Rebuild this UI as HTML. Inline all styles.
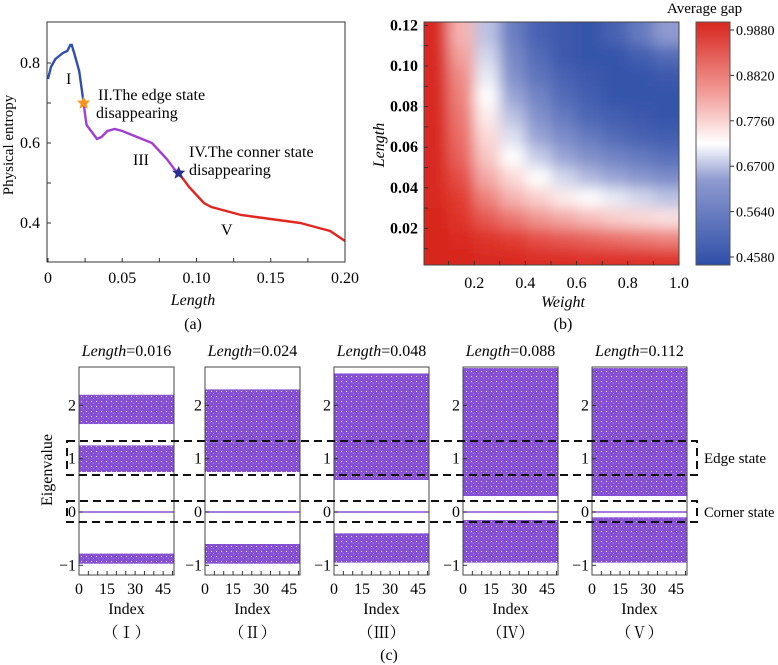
<!DOCTYPE html>
<html><head><meta charset="utf-8"><style>
body{margin:0;background:#fff}
svg{display:block;font-family:"Liberation Serif",serif}
</style></head><body>
<svg id="fig" width="778" height="665" viewBox="0 0 778 665">
<defs>
<pattern id="speck" width="5" height="5" patternUnits="userSpaceOnUse">
<rect width="5" height="5" fill="#8650d4"/><rect x="1" y="1" width="1" height="1" fill="#e8dcf8"/><rect x="3" y="3" width="1" height="1" fill="#a47ae0"/>
</pattern>
<linearGradient id="cbar" x1="0" y1="1" x2="0" y2="0">
<stop offset="0" stop-color="#2f4fa8"/><stop offset="0.35" stop-color="#8e9ad0"/><stop offset="0.5" stop-color="#ffffff"/><stop offset="0.7" stop-color="#f2a09c"/><stop offset="1" stop-color="#d7261e"/>
</linearGradient>
<filter id="blur" x="0" y="0" width="1" height="1"><feGaussianBlur stdDeviation="7"/></filter>
<clipPath id="hmclip"><rect x="424" y="22" width="255" height="243"/></clipPath>
</defs>
<g id="pa"></g>
<g id="pb"></g>
<g id="pc"></g>
</svg>
<script>
// ---- Panel (a) data ----
const entropyX = [0,0.002,0.005,0.01,0.013,0.015,0.016,0.018,0.021,0.024];
const entropyY = [0.76,0.79,0.81,0.825,0.83,0.845,0.845,0.82,0.78,0.70];
const entropyX2 = [0.024,0.025,0.026,0.028,0.03,0.033,0.036,0.04,0.045,0.05,0.06,0.07,0.075,0.08,0.085,0.088];
const entropyY2 = [0.70,0.67,0.645,0.635,0.625,0.61,0.615,0.63,0.635,0.63,0.615,0.60,0.58,0.56,0.535,0.525];
const entropyX3 = [0.088,0.09,0.095,0.1,0.105,0.11,0.115,0.12,0.13,0.14,0.15,0.16,0.17,0.18,0.19,0.2];
const entropyY3 = [0.525,0.515,0.49,0.47,0.45,0.44,0.435,0.43,0.42,0.415,0.41,0.405,0.40,0.39,0.38,0.355];
const aXTicks = [0,0.05,0.10,0.15,0.20];
const aXTickLabels = ["0","0.05","0.10","0.15","0.20"];
const aYTicks = [0.4,0.6,0.8];
const aYTickLabels = ["0.4","0.6","0.8"];
// ---- Panel (b) data ----
const weightCenters = [0.05,0.15,0.25,0.35,0.45,0.55,0.65,0.75,0.85,0.95];
const lengthCenters = [0.115,0.105,0.095,0.085,0.075,0.065,0.055,0.045,0.035,0.025,0.015,0.005];
const gapRows = [
[.98,.80,.66,.56,.50,.48,.47,.50,.55,.62],
[.98,.82,.68,.58,.52,.48,.47,.47,.49,.52],
[.98,.84,.70,.60,.54,.50,.48,.47,.47,.48],
[.98,.85,.72,.63,.57,.52,.49,.47,.47,.47],
[.98,.86,.74,.66,.60,.55,.51,.49,.48,.47],
[.98,.87,.76,.69,.63,.59,.55,.52,.50,.49],
[.98,.88,.78,.72,.67,.63,.60,.57,.55,.53],
[.98,.90,.81,.76,.72,.68,.65,.63,.61,.59],
[.98,.92,.85,.80,.77,.74,.72,.70,.68,.66],
[.99,.94,.89,.86,.83,.81,.79,.77,.76,.75],
[.99,.97,.94,.92,.90,.89,.88,.87,.86,.85],
[.99,.99,.98,.97,.96,.96,.95,.95,.95,.94]];
const bXTicks = [0.2,0.4,0.6,0.8,1.0];
const bXTickLabels = ["0.2","0.4","0.6","0.8","1.0"];
const bYTicks = [0.02,0.04,0.06,0.08,0.10,0.12];
const bYTickLabels = ["0.02","0.04","0.06","0.08","0.10","0.12"];
const cbarTicks = [0.988,0.882,0.776,0.670,0.564,0.458];
const cbarTickLabels = ["0.9880","0.8820","0.7760","0.6700","0.5640","0.4580"];
// ---- Panel (c) data ----
const panelTitles = ["0.016","0.024","0.048","0.088","0.112"];
const panelNumerals = ["（Ⅰ）","（Ⅱ）","（Ⅲ）","（Ⅳ）","（Ⅴ）"];
const bandLow = [[1.65,0.75,-0.97],[1.3,0.75,-0.97],[0.6,-0.95],[0.3,-0.95],[0.3,-0.95]];
const bandHigh = [[2.2,1.25,-0.78],[2.3,1.3,-0.6],[2.6,-0.4],[2.7,-0.15],[2.7,-0.1]];
const cXTicks = [0,15,30,45];
const cYTicks = [-1,0,1,2];
const cYTickLabels = ["−1","0","1","2"];

const NS="http://www.w3.org/2000/svg";
const FS=16;
function mk(parent,tag,attrs,text){const e=document.createElementNS(NS,tag);for(const k in attrs)e.setAttribute(k,attrs[k]);if(text!==undefined)e.textContent=text;parent.appendChild(e);return e;}

// ===== Panel a =====
const pa=document.getElementById('pa');
const ax=v=>48+v/0.2*297, ay=v=>63+(0.8-v)*400;
function drawLine(xs,ys,col,name){
  const p=mk(pa,'polyline',{points:xs.map((x,i)=>ax(x)+','+ay(ys[i])).join(' '),fill:'none',stroke:col,'stroke-width':2.4});
  
  
}
drawLine(entropyX,entropyY,'#2f4fb0','entropy-segment-1');
drawLine(entropyX2,entropyY2,'#a13fd0','entropy-segment-2');
drawLine(entropyX3,entropyY3,'#e0261e','entropy-segment-3');
let fr=mk(pa,'rect',{x:47,y:22,width:298,height:240,fill:'none',stroke:'#333','stroke-width':1});

for(let v=0;v<=0.2001;v+=0.025){mk(pa,'line',{x1:ax(v),x2:ax(v),y1:262,y2:258,stroke:'#333'});}
aXTicks.forEach((v,i)=>{const t=mk(pa,'text',{x:ax(v),y:283,'text-anchor':'middle','font-size':FS},aXTickLabels[i]);});
[0.4,0.5,0.6,0.7,0.8].forEach(v=>mk(pa,'line',{x1:47,x2:51,y1:ay(v),y2:ay(v),stroke:'#333'}));
aYTicks.forEach((v,i)=>{const t=mk(pa,'text',{x:40,y:ay(v)+5,'text-anchor':'end','font-size':FS},aYTickLabels[i]);});
let t;
t=mk(pa,'text',{x:0,y:0,transform:'translate(13,145) rotate(-90)','text-anchor':'middle','font-size':15},'Physical entropy');
t=mk(pa,'text',{x:193,y:305,'text-anchor':'middle','font-size':FS,'font-style':'italic'},'Length');
t=mk(pa,'text',{x:193,y:329,'text-anchor':'middle','font-size':FS},'(a)');
const ann=[[66,84,'I'],[98,100,'II.The edge state'],[96,118,'disappearing'],[133,165,'III'],[189,157,'IV.The conner state'],[189,175,'disappearing'],[221,235,'V']];
ann.forEach(a=>{const e=mk(pa,'text',{x:a[0],y:a[1],'font-size':FS},a[2]);});
function star(cx,cy,r,col,name){let pts=[];for(let i=0;i<10;i++){const rr=i%2?r*0.45:r;const a=-Math.PI/2+i*Math.PI/5;pts.push((cx+rr*Math.cos(a)).toFixed(1)+','+(cy+rr*Math.sin(a)).toFixed(1));}
const s=mk(pa,'polygon',{points:pts.join(' '),fill:col});}
star(ax(0.024),ay(0.70),7,'#f7931e','edge-disappearing-star');
star(ax(0.088),ay(0.525),7,'#2a2f8f','corner-disappearing-star');

// ===== Panel b =====
const pb=document.getElementById('pb');
const bx=v=>423+v*256, by=v=>269-v/0.02*40.6;
function gapColor(v){
  const stops=[[0.458,[47,79,168]],[0.62,[142,154,208]],[0.72,[255,255,255]],[0.82,[242,160,156]],[0.92,[225,60,50]],[0.99,[215,38,30]]];
  if(v<=stops[0][0])return 'rgb('+stops[0][1]+')';
  for(let i=1;i<stops.length;i++){if(v<=stops[i][0]){const f=(v-stops[i-1][0])/(stops[i][0]-stops[i-1][0]);const c=stops[i-1][1].map((a,k)=>Math.round(a+(stops[i][1][k]-a)*f));return 'rgb('+c+')';}}
  return 'rgb('+stops[stops.length-1][1]+')';
}
const hmOuter=mk(pb,'g',{'clip-path':'url(#hmclip)'});
const hm=mk(hmOuter,'g',{filter:'url(#blur)'});
mk(hm,'rect',{x:400,y:0,width:300,height:290,fill:gapColor(0.9)});
gapRows.forEach((row,ri)=>row.forEach((v,ci)=>{
  const w0=weightCenters[ci]-0.05,l0=lengthCenters[ri]+0.005;
  let x=bx(w0),y=by(l0),w=bx(weightCenters[ci]+0.05)-x,h=by(lengthCenters[ri]-0.005)-y;
  if(ci===0){x-=20;w+=20;} if(ci===row.length-1)w+=20; if(ri===0){y-=20;h+=20;} if(ri===gapRows.length-1)h+=20;
  const c=mk(hm,'rect',{x:x,y:y,width:w+0.5,height:h+0.5,fill:gapColor(v)});
  
  
}));
fr=mk(pb,'rect',{x:424,y:22,width:255,height:243,fill:'none',stroke:'#444'});
for(let v=0.1;v<=1.0;v+=0.1)mk(pb,'line',{x1:bx(v),x2:bx(v),y1:265,y2:261,stroke:'#333'});
bXTicks.forEach((v,i)=>{const e=mk(pb,'text',{x:bx(v),y:288,'text-anchor':'middle','font-size':FS},bXTickLabels[i]);});
for(let v=0.01;v<=0.12;v+=0.01)mk(pb,'line',{x1:424,x2:428,y1:by(v),y2:by(v),stroke:'#333'});
bYTicks.forEach((v,i)=>{const e=mk(pb,'text',{x:418,y:by(v)+5,'text-anchor':'end','font-size':FS,'font-weight':'bold'},bYTickLabels[i]);});
t=mk(pb,'text',{x:0,y:0,transform:'translate(384,145) rotate(-90)','text-anchor':'middle','font-size':FS,'font-style':'italic'},'Length');
t=mk(pb,'text',{x:563,y:307,'text-anchor':'middle','font-size':FS,'font-style':'italic'},'Weight');
t=mk(pb,'text',{x:563,y:329,'text-anchor':'middle','font-size':FS},'(b)');
let cb=mk(pb,'rect',{x:696,y:22,width:34,height:243,fill:'url(#cbar)',stroke:'#555'});
const cy=v=>30+(0.988-v)/(0.988-0.458)*227;
cbarTicks.forEach((v,i)=>{mk(pb,'line',{x1:730,x2:734,y1:cy(v),y2:cy(v),stroke:'#333'});const e=mk(pb,'text',{x:736,y:cy(v)+5,'font-size':14},cbarTickLabels[i]);});
t=mk(pb,'text',{x:667,y:13,'font-size':15},'Average gap');

// ===== Panel c =====
const pc=document.getElementById('pc');
const panelLeft=[79,205,334,463,592];
const cyv=v=>512-v*53.3;
panelTitles.forEach((title,p)=>{
  const L=panelLeft[p],W=95;
  const cx=i=>L+i*1.87;
  const g=mk(pc,'g',{});
  
  
  bandLow[p].forEach((lo,b)=>{
    const hi=bandHigh[p][b];
    const r=mk(g,'rect',{x:L,y:cyv(hi),width:W,height:cyv(lo)-cyv(hi),fill:'url(#speck)'});
    
    
  });
  const z=mk(g,'line',{x1:L,x2:L+W,y1:cyv(0),y2:cyv(0),stroke:'#8a4fd6','stroke-width':1.5});
  
  mk(g,'rect',{x:L,y:367,width:W,height:208,fill:'none',stroke:'#444'});
  for(let i=5;i<=50;i+=5)mk(g,'line',{x1:cx(i),x2:cx(i),y1:575,y2:571,stroke:'#333'});
  cXTicks.forEach(v=>{const e=mk(g,'text',{x:cx(v),y:594,'text-anchor':'middle','font-size':FS},String(v));});
  cYTicks.forEach((v,i)=>{mk(g,'line',{x1:L,x2:L+4,y1:cyv(v),y2:cyv(v),stroke:'#333'});const e=mk(g,'text',{x:L-3,y:cyv(v)+5,'text-anchor':'end','font-size':FS},cYTickLabels[i]);});
  const tt=mk(g,'text',{x:L+W/2,y:356,'text-anchor':'middle','font-size':FS});
  
  mk(tt,'tspan',{'font-style':'italic'},'Length');mk(tt,'tspan',{},'='+title);
  let e=mk(g,'text',{x:L+W/2,y:614,'text-anchor':'middle','font-size':FS},'Index');
  e=mk(g,'text',{x:L+W/2,y:638,'text-anchor':'middle','font-size':FS,'font-family':'"Liberation Serif","Noto Serif CJK SC",serif'},panelNumerals[p]);
});
t=mk(pc,'text',{x:0,y:0,transform:'translate(52,470) rotate(-90)','text-anchor':'middle','font-size':FS},'Eigenvalue');
let db=mk(pc,'path',{d:'M67,441 H697 V475 H67 Z',fill:'none',stroke:'#111','stroke-width':2,'stroke-dasharray':'8,5'});
db=mk(pc,'path',{d:'M67,501 H697 V522 H67 Z',fill:'none',stroke:'#111','stroke-width':2,'stroke-dasharray':'8,5'});
t=mk(pc,'text',{x:704,y:463,'font-size':15},'Edge state');
t=mk(pc,'text',{x:704,y:517,'font-size':14.5},'Corner state');
t=mk(pc,'text',{x:389,y:660,'text-anchor':'middle','font-size':FS},'(c)');
</script>
</body></html>
